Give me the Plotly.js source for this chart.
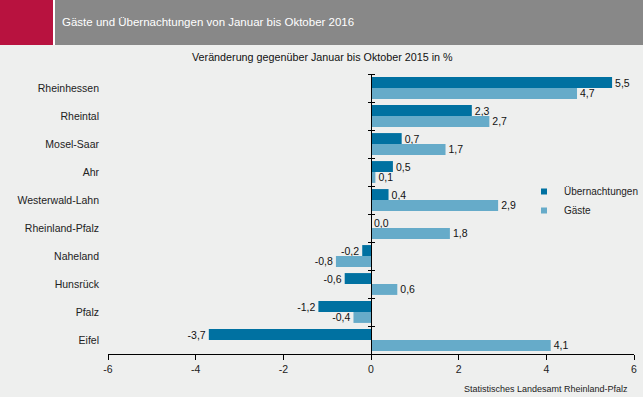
<!DOCTYPE html>
<html>
<head>
<meta charset="utf-8">
<script src="https://cdn.plot.ly/plotly-3.0.1.min.js"></script>
<style>html,body{margin:0;padding:0;background:#eeefee;}#chart{width:643px;height:397px;}</style>
</head>
<body>
<div id="chart"></div>
<script>
const categories = ['Rheinhessen','Rheintal','Mosel-Saar','Ahr','Westerwald-Lahn','Rheinland-Pfalz','Naheland','Hunsrück','Pfalz','Eifel'];
const uebernachtungen = [5.5, 2.3, 0.7, 0.5, 0.4, 0.0, -0.2, -0.6, -1.2, -3.7];
const gaeste = [4.7, 2.7, 1.7, 0.1, 2.9, 1.8, -0.8, 0.6, -0.4, 4.1];
const seriesNames = ['Übernachtungen', 'Gäste'];
const xTickVals = [-6, -4, -2, 0, 2, 4, 6];
const xTickText = ['-6', '-4', '-2', '0', '2', '4', '6'];
const titleText = 'Gäste und Übernachtungen von Januar bis Oktober 2016';
const subtitleText = 'Veränderung gegenüber Januar bis Oktober 2015 in %';
const sourceText = 'Statistisches Landesamt Rheinland-Pfalz';

const W = 643, H = 397, L = 108, R = 9, T = 74, B = 43;
const PW = W - L - R, PH = H - T - B;
const px = x => (x - L) / PW;
const py = y => (H - B - y) / PH;

const fmt = v => v.toFixed(1).replace('.', ',');
const DARK = '#0071a1', LIGHT = '#66abc9';
const FONT = 'Liberation Sans, Arial, sans-serif';

const traces = [
  {type: 'bar', orientation: 'h', name: seriesNames[0], y: categories, x: uebernachtungen,
   marker: {color: DARK}, text: uebernachtungen.map(fmt), textposition: 'outside', constraintext: 'none',
   textfont: {color: '#111', size: 10.5, family: FONT}, cliponaxis: false, showlegend: false, hoverinfo: 'none'},
  {type: 'bar', orientation: 'h', name: seriesNames[1], y: categories, x: gaeste,
   marker: {color: LIGHT}, text: gaeste.map(fmt), textposition: 'outside', constraintext: 'none',
   textfont: {color: '#111', size: 10.5, family: FONT}, cliponaxis: false, showlegend: false, hoverinfo: 'none'},
  {type: 'scatter', mode: 'markers', name: seriesNames[0], x: [null], y: [null],
   marker: {symbol: 'square', size: 6, color: DARK}, showlegend: true},
  {type: 'scatter', mode: 'markers', name: seriesNames[1], x: [null], y: [null],
   marker: {symbol: 'square', size: 6, color: LIGHT}, showlegend: true},
  {type: 'scatter', mode: 'markers', x: [null], y: [categories[0]], yaxis: 'y2', showlegend: false, hoverinfo: 'none'},
  {type: 'scatter', mode: 'markers', x: [null], y: [categories[0]], yaxis: 'y3', showlegend: false, hoverinfo: 'none'}
];

const catAxisBase = {type: 'category', categoryarray: categories, categoryorder: 'array', range: [categories.length - 0.5, -0.5], fixedrange: true};

const layout = {
  width: W, height: H,
  margin: {l: L, r: R, t: T, b: B, pad: 0, autoexpand: false},
  paper_bgcolor: '#eeefee', plot_bgcolor: '#eeefee',
  font: {family: FONT, size: 10.5, color: '#222'},
  barmode: 'group', bargap: 0.22, bargroupgap: 0,
  showlegend: true,
  legend: {xref: 'container', yref: 'container', x: 524 / W, y: 1 - 177 / H, xanchor: 'left', yanchor: 'top', bgcolor: 'rgba(0,0,0,0)',
           font: {size: 10, family: FONT, color: '#222'}, itemwidth: 30, tracegroupgap: 0},
  title: {text: titleText, xref: 'container', yref: 'container', x: 62 / W, xanchor: 'left', y: 1 - 22 / H, yanchor: 'middle',
          font: {color: '#ffffff', size: 11.5, family: FONT}},
  xaxis: {range: [-6, 6], tickvals: xTickVals, ticktext: xTickText, showgrid: false, zeroline: false,
          showline: true, linecolor: '#000', linewidth: 1, ticks: 'outside', ticklen: 5, tickcolor: '#000',
          tickfont: {size: 10.5, color: '#222'}, fixedrange: true},
  yaxis: Object.assign({}, catAxisBase, {showgrid: false, showline: false, ticks: '', ticklabelstandoff: 8,
          tickfont: {size: 10.5, color: '#222'}, zeroline: false}),
  yaxis2: Object.assign({}, catAxisBase, {overlaying: 'y', anchor: 'free', position: 0.5, side: 'left',
          showline: true, linecolor: '#000', linewidth: 1, ticks: 'outside', tickson: 'boundaries', ticklen: 3,
          tickcolor: '#000', showticklabels: false, showgrid: false, zeroline: false}),
  yaxis3: Object.assign({}, catAxisBase, {overlaying: 'y', anchor: 'free', position: 0.5, side: 'right',
          showline: false, ticks: 'outside', tickson: 'boundaries', ticklen: 3,
          tickcolor: '#000', showticklabels: false, showgrid: false, zeroline: false}),
  shapes: [
    {type: 'rect', xref: 'paper', yref: 'paper', x0: px(0), x1: px(53), y0: py(0), y1: py(45), fillcolor: '#b8123f', line: {width: 0}, layer: 'below'},
    {type: 'rect', xref: 'paper', yref: 'paper', x0: px(55), x1: px(643), y0: py(0), y1: py(45), fillcolor: '#888888', line: {width: 0}, layer: 'below'},
    {type: 'rect', xref: 'paper', yref: 'paper', x0: px(53), x1: px(55), y0: py(0), y1: py(45), fillcolor: '#ffffff', line: {width: 0}, layer: 'below'}
  ],
  annotations: [
    {text: subtitleText, xref: 'paper', yref: 'paper', x: px(322), y: py(57), xanchor: 'center', yanchor: 'middle',
     showarrow: false, font: {size: 10.75, color: '#111'}},
    {text: sourceText, xref: 'paper', yref: 'paper', x: px(630), y: py(389), xanchor: 'right', yanchor: 'middle',
     showarrow: false, font: {size: 9, color: '#222'}}
  ]
};

Plotly.newPlot('chart', traces, layout, {displayModeBar: false, staticPlot: true});
</script>
</body>
</html>
